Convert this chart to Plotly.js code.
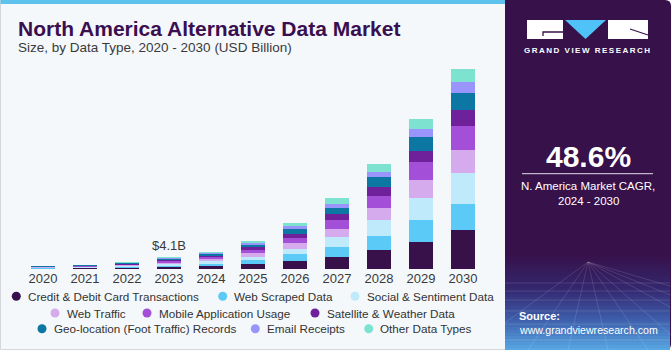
<!DOCTYPE html>
<html>
<head>
<meta charset="utf-8">
<script src="https://cdn.plot.ly/plotly-3.0.1.min.js"></script>
<style>html,body{margin:0;padding:0;background:#fff;}#chart{width:671px;height:350px;}</style>
</head>
<body>
<div id="chart"></div>
<script>
// ---------------- DATA ----------------
const years = ['2020','2021','2022','2023','2024','2025','2026','2027','2028','2029','2030'];
const seriesNames = [
  'Credit & Debit Card Transactions','Web Scraped Data','Social & Sentiment Data',
  'Web Traffic','Mobile Application Usage','Satellite & Weather Data',
  'Geo-location (Foot Traffic) Records','Email Receipts','Other Data Types'
];
const creditDebit   = [0.17,0.25,0.38,0.67,1.00,1.70,2.70,4.30,6.60,9.70,13.60];
const webScraped    = [0.15,0.21,0.32,0.56,0.90,1.40,2.50,3.50,5.20,7.70,9.40];
const socialSent    = [0.14,0.20,0.30,0.53,0.80,1.30,2.00,3.50,5.60,7.80,10.70];
const webTraffic    = [0.13,0.18,0.28,0.49,0.75,1.20,2.00,2.90,4.10,6.10,8.30];
const mobileApp     = [0.13,0.18,0.28,0.49,0.75,1.20,1.90,3.10,4.40,6.40,8.50];
const satellite     = [0.09,0.13,0.20,0.35,0.50,0.80,1.40,2.00,3.20,4.00,5.60];
const geoLocation   = [0.10,0.14,0.22,0.39,0.55,0.90,1.50,2.30,3.30,4.70,5.90];
const emailReceipts = [0.07,0.10,0.15,0.25,0.40,0.60,1.00,1.40,2.00,3.10,3.90];
const otherTypes    = [0.08,0.13,0.20,0.35,0.50,0.80,1.30,1.90,2.60,3.30,4.50];
const seriesValues = [creditDebit,webScraped,socialSent,webTraffic,mobileApp,satellite,geoLocation,emailReceipts,otherTypes];
const calloutYear = '2023';
const calloutLabel = '$4.1B';
const titleText = 'North America Alternative Data Market';
const subtitleText = 'Size, by Data Type, 2020 - 2030 (USD Billion)';
const cagrValue = '48.6%';
const cagrLabel1 = 'N. America Market CAGR,';
const cagrLabel2 = '2024 - 2030';
const brandText = 'GRAND VIEW RESEARCH';
const sourceLabel = 'Source:';
const sourceUrl = 'www.grandviewresearch.com';

// ---------------- STYLE ----------------
const seriesColors = ['#38114b','#5ccaf7','#bfeafb','#d6abee','#a44fd8','#6f209b','#0b77a2','#9995fd','#7de2cf'];
const FONT = 'Liberation Sans, Arial, sans-serif';
const W = 671, H = 350, ML = 22, MR = 187, MT = 57, MB = 81;
const PW = W - ML - MR, PH = H - MT - MB;
const fx = px => (px - ML) / PW;
const fy = py => (H - MB - py) / PH;

const traces = seriesNames.map((name, i) => ({
  type: 'bar', name: name, x: years, y: seriesValues[i],
  marker: {color: seriesColors[i], line: {width: 0}},
  hoverinfo: 'skip', showlegend: false
}));

const shapes = [];
const ann = [];
function rectPx(x0, y0, x1, y1, fill, line) {
  shapes.push({type:'rect', xref:'paper', yref:'paper', x0:fx(x0), x1:fx(x1), y0:fy(y1), y1:fy(y0),
    fillcolor: fill, line: line || {width:0}, layer:'below'});
}
function pathPx(pts, fill, line, closed) {
  let d = pts.map((p, k) => (k ? 'L' : 'M') + fx(p[0]) + ',' + fy(p[1])).join(' ') + (closed ? ' Z' : '');
  shapes.push({type:'path', xref:'paper', yref:'paper', path:d, fillcolor: fill || 'rgba(0,0,0,0)', line: line || {width:0}, layer:'below'});
}
function textPx(x, y, text, size, color, xanchor, bold, extra) {
  ann.push(Object.assign({xref:'paper', yref:'paper', x:fx(x), y:fy(y), text: bold ? '<b>'+text+'</b>' : text,
    showarrow:false, xanchor: xanchor || 'left', yanchor:'middle',
    font:{family:FONT, size:size, color:color}}, extra || {}));
}

// card
rectPx(0.5, 0.5, 512, 349.5, '#f4f8fb', {color:'#d3d7db', width:1});
rectPx(0.5, 0, 512, 4, '#5dc3ec');
// right panel
shapes.push({type:'path', xref:'paper', yref:'paper', layer:'below', fillcolor:'#37114a', line:{width:0},
  path:'M'+fx(505)+','+fy(0)+' L'+fx(665)+','+fy(0)+' Q'+fx(671)+','+fy(0)+' '+fx(671)+','+fy(6)+
       ' L'+fx(671)+','+fy(344)+' Q'+fx(671)+','+fy(350)+' '+fx(665)+','+fy(350)+' L'+fx(505)+','+fy(350)+' Z'});
// gradient at bottom of panel
const stops = [[255,[55,17,74]],[290,[52,40,112]],[320,[62,95,172]],[350,[88,168,228]]];
function colAt(y) {
  for (let k = 0; k < stops.length - 1; k++) {
    const a = stops[k], b = stops[k+1];
    if (y >= a[0] && y <= b[0]) {
      const t = (y - a[0]) / (b[0] - a[0]);
      const c = a[1].map((v, j) => Math.round(v + (b[1][j] - v) * t));
      return 'rgb(' + c.join(',') + ')';
    }
  }
  return 'rgb(88,168,228)';
}
for (let y = 255; y < 349; y += 3) rectPx(505, y, 670, y + 3.2, colAt(y + 1.5));
// faint grid in gradient
const gl = {color:'rgba(255,255,255,0.13)', width:1};
[283, 291, 300, 311, 324, 340].forEach(y => pathPx([[505,y],[670,y]], null, gl));
[-120,-60,-20,20,60,100,160,220,300].forEach(dx => pathPx([[588,262],[588+dx,350]], null, gl));

// logo
rectPx(527, 20, 563, 39, '#ffffff');
pathPx([[543,36],[543,32],[563,32]], null, {color:'#37114a', width:1.3});
pathPx([[565,20],[606,20],[585.5,39]], '#4fc3f7', {width:0}, true);
rectPx(608, 20, 648, 39, '#ffffff');
pathPx([[630,29],[648,35]], null, {color:'#37114a', width:1.3});
textPx(587.5, 50.5, '<span style="letter-spacing:1.5px">' + brandText + '</span>', 8, '#ffffff', 'center', true);

// CAGR
textPx(588, 156, cagrValue, 30, '#ffffff', 'center', true);
pathPx([[522,173.7],[653,173.7]], null, {color:'rgba(255,255,255,0.85)', width:1});
textPx(588, 186, cagrLabel1, 11.5, '#ffffff', 'center');
textPx(588, 200.5, cagrLabel2, 11.5, '#ffffff', 'center');
textPx(517, 316, sourceLabel, 11, '#ffffff', 'left', true);
textPx(517, 330, sourceUrl, 10.6, '#ffffff', 'left');

// titles
textPx(16, 28.5, titleText, 21, '#3a0f4f', 'left', true);
textPx(16, 48, subtitleText, 13.5, '#3a3a3a', 'left');

// callout (category axis: use category index so the annotation does not stretch the range)
const calloutIdx = years.indexOf(calloutYear);
const calloutTotal = seriesValues.reduce((s, arr) => s + arr[calloutIdx], 0);
ann.push({x: calloutIdx, y: calloutTotal, xref:'x', yref:'y', text: calloutLabel, showarrow:false,
  xanchor:'center', yanchor:'bottom', yshift:2, font:{family:FONT, size:13, color:'#3a3a3a'}});

// manual legend (3 rows, centered)
const legendPos = [[16.3,26.7,296.3],[222.7,232.7,296.3],[355,365.7,296.3],
                   [55,66,313],[147,158,313],[315,325.7,313],
                   [42,52.7,328.7],[255.3,266,328.7],[368.7,379,328.7]];
seriesNames.forEach((name, i) => {
  const [mx, tx, yy] = legendPos[i];
  shapes.push({type:'circle', xref:'paper', yref:'paper', x0:fx(mx-4.5), x1:fx(mx+4.5), y0:fy(yy+4.5), y1:fy(yy-4.5),
    fillcolor: seriesColors[i], line:{width:0}, layer:'above'});
  textPx(tx - 1, yy, name, 11.7, '#333333', 'left');
});

const layout = {
  width: W, height: H,
  margin: {l:ML, r:MR, t:MT, b:MB, pad:0},
  paper_bgcolor: '#ffffff', plot_bgcolor: 'rgba(0,0,0,0)',
  barmode: 'stack', bargap: 0.4286,
  showlegend: false,
  xaxis: {type:'category', range:[-0.5, years.length - 0.5], autorange:false, showgrid:false, zeroline:false, showline:false, ticks:'',
          tickfont:{family:FONT, size:13, color:'#3a3a3a'}, fixedrange:true},
  yaxis: {range:[0, 74.8], autorange:false, visible:false, showgrid:false, zeroline:false, fixedrange:true},
  shapes: shapes, annotations: ann,
  font: {family: FONT}
};
Plotly.newPlot('chart', traces, layout, {displayModeBar:false, staticPlot:true});
</script>
</body>
</html>
